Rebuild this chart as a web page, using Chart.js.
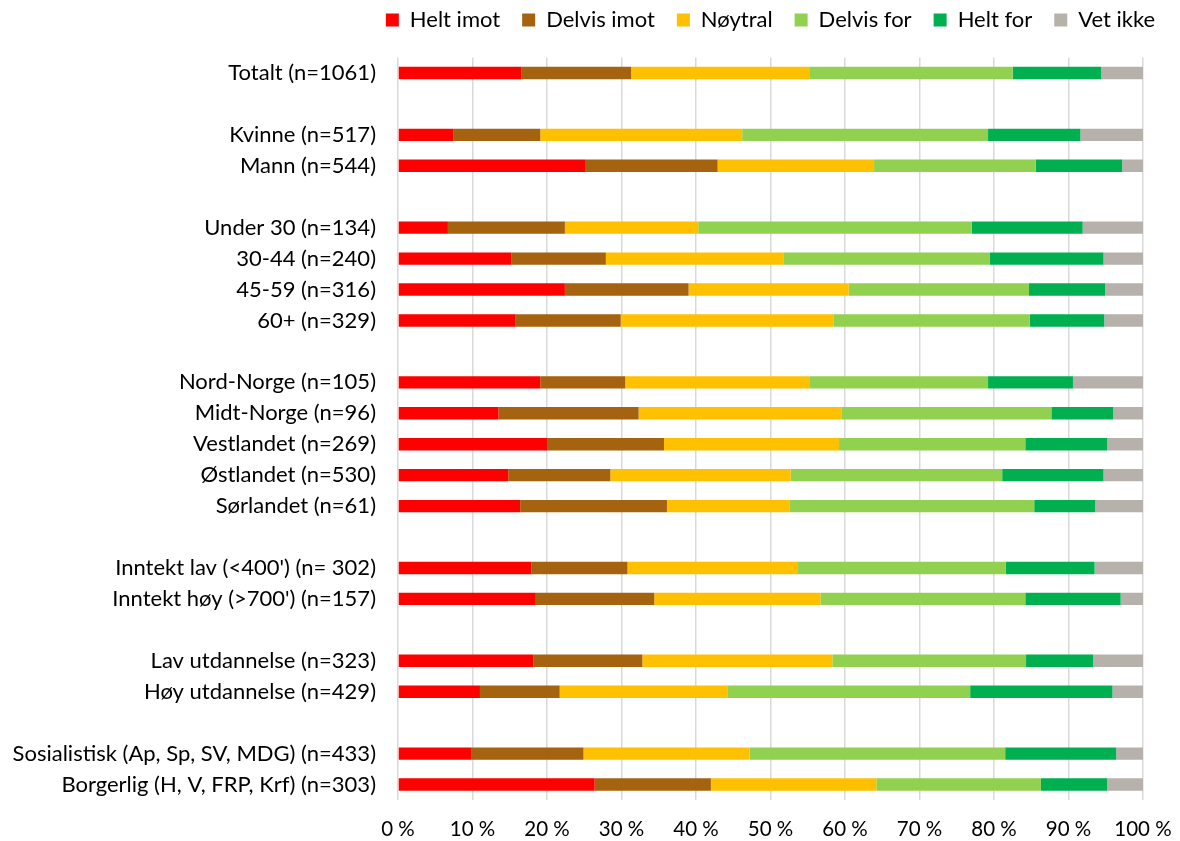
<!DOCTYPE html>
<html>
<head>
<meta charset="utf-8">
<script src="https://cdn.jsdelivr.net/npm/chart.js@4/dist/chart.umd.min.js"></script>
<style>
  html, body { margin: 0; padding: 0; background: #fff; }
  #wrap { width: 1180px; height: 841px; }
</style>
</head>
<body>
<div id="wrap"><canvas id="c" width="1180" height="841"></canvas></div>
<script>
// Row labels (empty strings are spacer rows between groups)
const categories = [
  'Totalt (n=1061)', '',
  'Kvinne (n=517)', 'Mann (n=544)', '',
  'Under 30 (n=134)', '30-44 (n=240)', '45-59 (n=316)', '60+ (n=329)', '',
  'Nord-Norge (n=105)', 'Midt-Norge (n=96)', 'Vestlandet (n=269)', 'Østlandet (n=530)', 'Sørlandet (n=61)', '',
  "Inntekt lav (<400') (n= 302)", "Inntekt høy (>700') (n=157)", '',
  'Lav utdannelse (n=323)', 'Høy utdannelse (n=429)', '',
  'Sosialistisk (Ap, Sp, SV, MDG) (n=433)', 'Borgerlig (H, V, FRP, Krf) (n=303)'
];

const seriesNames = ['Helt imot', 'Delvis imot', 'Nøytral', 'Delvis for', 'Helt for', 'Vet ikke'];

// Shares in percent, one value per row (null for spacer rows)
const heltImot   = [16.6, null, 7.4, 25.1, null, 6.7, 15.2, 22.4, 15.8, null, 19.1, 13.5, 20.0, 14.8, 16.4, null, 17.9, 18.5, null, 18.2, 11.0, null, 9.9, 26.4];
const delvisImot = [14.7, null, 11.7, 17.8, null, 15.7, 12.7, 16.6, 14.1, null, 11.4, 18.8, 15.7, 13.7, 19.7, null, 12.9, 15.9, null, 14.6, 10.7, null, 15.0, 15.6];
const noytral    = [24.0, null, 27.1, 21.0, null, 17.9, 23.9, 21.5, 28.6, null, 24.8, 27.2, 23.5, 24.2, 16.5, null, 22.9, 22.3, null, 25.5, 22.5, null, 22.3, 22.2];
const delvisFor  = [27.2, null, 33.0, 21.7, null, 36.7, 27.6, 24.2, 26.3, null, 23.9, 28.2, 25.0, 28.4, 32.8, null, 27.9, 27.5, null, 26.0, 32.6, null, 34.3, 22.1];
const heltFor    = [11.9, null, 12.4, 11.6, null, 14.9, 15.3, 10.2, 10.0, null, 11.4, 8.3, 11.0, 13.6, 8.2, null, 11.9, 12.8, null, 9.0, 19.1, null, 14.9, 8.9];
const vetIkke    = [5.6, null, 8.4, 2.8, null, 8.1, 5.3, 5.1, 5.2, null, 9.4, 4.0, 4.8, 5.3, 6.4, null, 6.5, 3.0, null, 6.7, 4.1, null, 3.6, 4.8];

const xTicks = [0, 10, 20, 30, 40, 50, 60, 70, 80, 90, 100];

const colors = ['#FF0000', '#A5620F', '#FFC000', '#92D050', '#00B050', '#B7B1AC'];
const values = [heltImot, delvisImot, noytral, delvisFor, heltFor, vetIkke];

const FONT = 'Lato, "Open Sans", sans-serif';

// Keep the legend on one row centred over the plot (it is a little wider
// than the plot) and leave some extra room between it and the bars.
const legendSpacing = {
  id: 'legendSpacing',
  beforeInit(chart) {
    const legend = chart.legend;
    if (!legend) return;
    const fit = legend.fit;
    legend.fit = function () {
      const mw = this.maxWidth;
      this.maxWidth = 2000;
      fit.call(this);
      this.maxWidth = mw;
      this.width = Math.min(this.width, mw);
      this.height += 16.5;
    };
  },
  afterLayout(chart) {
    const legend = chart.legend;
    if (!legend) return;
    const extra = 60;
    legend.left -= extra;
    legend.right += extra;
    legend.width += 2 * extra;
  }
};

new Chart(document.getElementById('c'), {
  type: 'bar',
  data: {
    labels: categories,
    datasets: seriesNames.map((name, i) => ({
      label: name,
      data: values[i],
      backgroundColor: colors[i],
      borderWidth: 0,
      barPercentage: 0.4,
      categoryPercentage: 1.0
    }))
  },
  plugins: [legendSpacing],
  options: {
    indexAxis: 'y',
    responsive: false,
    animation: false,
    layout: { padding: { top: -13, right: 37, bottom: 0, left: 0 } },
    plugins: {
      tooltip: { enabled: false },
      legend: {
        position: 'top',
        fullSize: false,
        labels: {
          boxWidth: 13,
          boxHeight: 13,
          padding: 22,
          color: '#000',
          font: { family: FONT, size: 22 }
        }
      }
    },
    scales: {
      x: {
        stacked: true,
        min: 0,
        max: 100,
        afterBuildTicks: s => { s.ticks = xTicks.map(v => ({ value: v })); },
        afterFit: s => { s.height = 41; s.paddingLeft = 0; s.paddingRight = 0; },
        ticks: {
          padding: 17,
          color: '#000',
          font: { family: FONT, size: 20.5 },
          callback: v => v + ' %'
        },
        grid: { color: '#D9D9D9', lineWidth: 1.5, drawTicks: false },
        border: { display: false }
      },
      y: {
        stacked: true,
        afterFit: s => { s.width = 398; },
        ticks: {
          padding: 22,
          autoSkip: false,
          color: '#000',
          font: { family: FONT, size: 22 }
        },
        grid: { display: false, drawTicks: false },
        border: { display: false }
      }
    }
  }
});
</script>
</body>
</html>
